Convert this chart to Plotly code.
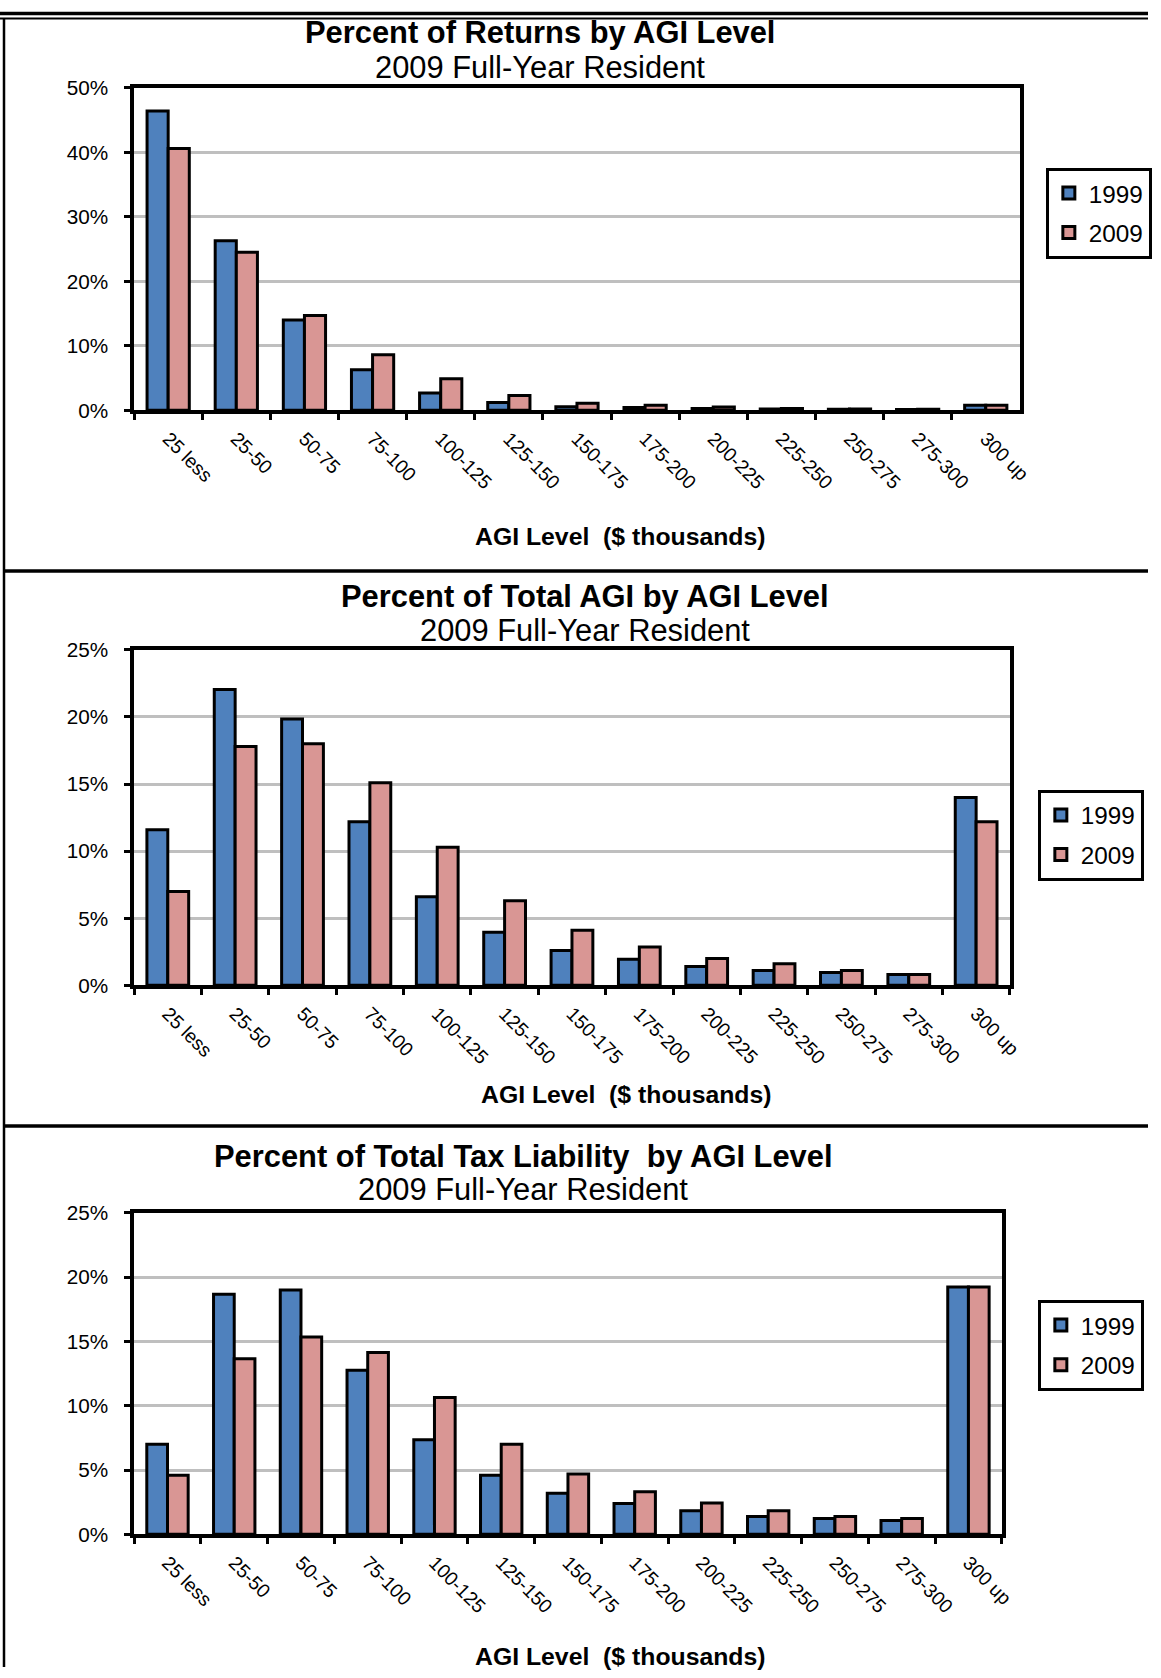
import plotly.graph_objects as go

categories = ["25 less", "25-50", "50-75", "75-100", "100-125", "125-150", "150-175",
              "175-200", "200-225", "225-250", "250-275", "275-300", "300 up"]
series_names = ["1999", "2009"]

returns_1999 = [46.4, 26.3, 14.0, 6.3, 2.7, 1.2, 0.55, 0.45, 0.3, 0.2, 0.15, 0.12, 0.8]
returns_2009 = [40.6, 24.5, 14.7, 8.6, 4.9, 2.3, 1.1, 0.8, 0.5, 0.3, 0.2, 0.15, 0.8]
agi_1999 = [11.6, 22.05, 19.85, 12.2, 6.6, 3.95, 2.6, 1.95, 1.4, 1.1, 0.95, 0.8, 14.0]
agi_2009 = [7.0, 17.8, 18.0, 15.1, 10.3, 6.3, 4.1, 2.85, 2.0, 1.6, 1.1, 0.8, 12.2]
tax_1999 = [7.0, 18.67, 19.0, 12.77, 7.36, 4.6, 3.2, 2.4, 1.83, 1.39, 1.23, 1.07, 19.24]
tax_2009 = [4.6, 13.65, 15.35, 14.15, 10.65, 7.0, 4.7, 3.32, 2.43, 1.83, 1.39, 1.23, 19.24]

titles = ["Percent of Returns by AGI Level",
          "Percent of Total AGI by AGI Level",
          "Percent of Total Tax Liability  by AGI Level"]
subtitle = "2009 Full-Year Resident"
xtitle = "AGI Level  ($ thousands)"

W, H = 1161, 1678
FONT = "Liberation Sans, Arial, sans-serif"
BLUE = "#4F81BD"
PINK = "#D99694"

# the photographed page shows the figure slightly scaled and shifted; compensate
S = 0.988
OY = 10.0

def fx(v):
    return v / S

def fy(v):
    return (v - OY) / S

def px_x(v):
    return min(max(fx(v) / W, 0), 1)

def px_y(v):
    return min(max(1 - fy(v) / H, 0), 1)

def fs(v):
    return v / S

panels = [
    dict(data=(returns_1999, returns_2009), plot=(134, 1019, 86, 409), yr=50, dt=10,
         title=(540, 31), sub=(540, 66), xt=(620, 535), leg=(1045, 166)),
    dict(data=(agi_1999, agi_2009), plot=(134, 1009, 649, 985), yr=25, dt=5,
         title=(585, 596), sub=(585, 630), xt=(626, 1094), leg=(1037, 789)),
    dict(data=(tax_1999, tax_2009), plot=(134, 1001, 1213, 1535), yr=25, dt=5,
         title=(523, 1156), sub=(523, 1190), xt=(620, 1657), leg=(1037, 1300)),
]

fig = go.Figure()
annotations = []
shapes = []
layout_extra = {}

for i, p in enumerate(panels):
    n = "" if i == 0 else str(i + 1)
    legname = "legend" + n
    for j, (vals, color) in enumerate(zip(p["data"], [BLUE, PINK])):
        fig.add_trace(go.Bar(
            x=categories, y=vals, name=series_names[j],
            marker=dict(color=color, line=dict(color="black", width=3)),
            xaxis="x" + n, yaxis="y" + n, legend=legname,
            legendgroup=f"g{i}{j}",
        ))
    x0, x1, y0, y1 = p["plot"]
    layout_extra["xaxis" + n] = dict(
        domain=[px_x(x0), px_x(x1)], anchor="y" + n, type="category",
        showline=True, linecolor="black", linewidth=3.5, mirror=True,
        ticks="outside", tickson="boundaries", ticklen=6, tickwidth=3, tickcolor="black",
        tickangle=45, tickfont=dict(family=FONT, size=fs(19), color="black"),
        showgrid=False, ticklabelstandoff=6,
    )
    layout_extra["yaxis" + n] = dict(
        domain=[px_y(y1), px_y(y0)], anchor="x" + n, range=[0, p["yr"]], dtick=p["dt"],
        ticksuffix="%", showline=True, linecolor="black", linewidth=3.5, mirror=True,
        ticks="outside", ticklen=6, tickwidth=3, tickcolor="black",
        tickfont=dict(family=FONT, size=fs(20.5), color="black"),
        showgrid=True, gridcolor="#BFBFBF", gridwidth=3, zeroline=False,
        ticklabelstandoff=12,
    )
    layout_extra[legname] = dict(
        x=px_x(p["leg"][0]), y=px_y(p["leg"][1]), xanchor="left", yanchor="top",
        bgcolor="white", bordercolor="black", borderwidth=3,
        font=dict(family=FONT, size=fs(24), color="black"), tracegroupgap=5,
    )
    annotations.append(dict(text="<b>" + titles[i] + "</b>", x=px_x(p["title"][0]), y=px_y(p["title"][1]),
                            xref="paper", yref="paper", showarrow=False, xanchor="center", yanchor="middle",
                            font=dict(family=FONT, size=fs(30.5), color="black")))
    annotations.append(dict(text=subtitle, x=px_x(p["sub"][0]), y=px_y(p["sub"][1]),
                            xref="paper", yref="paper", showarrow=False, xanchor="center", yanchor="middle",
                            font=dict(family=FONT, size=fs(30.5), color="black")))
    annotations.append(dict(text="<b>" + xtitle + "</b>", x=px_x(p["xt"][0]), y=px_y(p["xt"][1]),
                            xref="paper", yref="paper", showarrow=False, xanchor="center", yanchor="middle",
                            font=dict(family=FONT, size=fs(24.5), color="black")))

# page frame lines
for (fyv, w) in [(1.5, 3.5), (6.5, 2)]:
    shapes.append(dict(type="line", xref="paper", yref="paper", x0=0, x1=1,
                       y0=1 - fyv / H, y1=1 - fyv / H, line=dict(color="black", width=w)))
shapes.append(dict(type="line", xref="paper", yref="paper", x0=px_x(4), x1=px_x(4), y0=1 - 7 / H, y1=0,
                   line=dict(color="black", width=2.5)))
for ya in [570, 1126]:
    shapes.append(dict(type="line", xref="paper", yref="paper", x0=px_x(3), x1=1, y0=px_y(ya), y1=px_y(ya),
                       line=dict(color="black", width=3.5)))

fig.update_layout(
    width=W, height=H, margin=dict(l=0, r=0, t=0, b=0),
    paper_bgcolor="white", plot_bgcolor="white",
    barmode="group", bargap=0.38, bargroupgap=0,
    font=dict(family=FONT, color="black"),
    annotations=annotations, shapes=shapes, showlegend=True,
    **layout_extra,
)

post = ("document.body.style.margin='0';document.body.style.padding='0';")
fig.write_html("out.html", config={"displayModeBar": False}, post_script=post)
